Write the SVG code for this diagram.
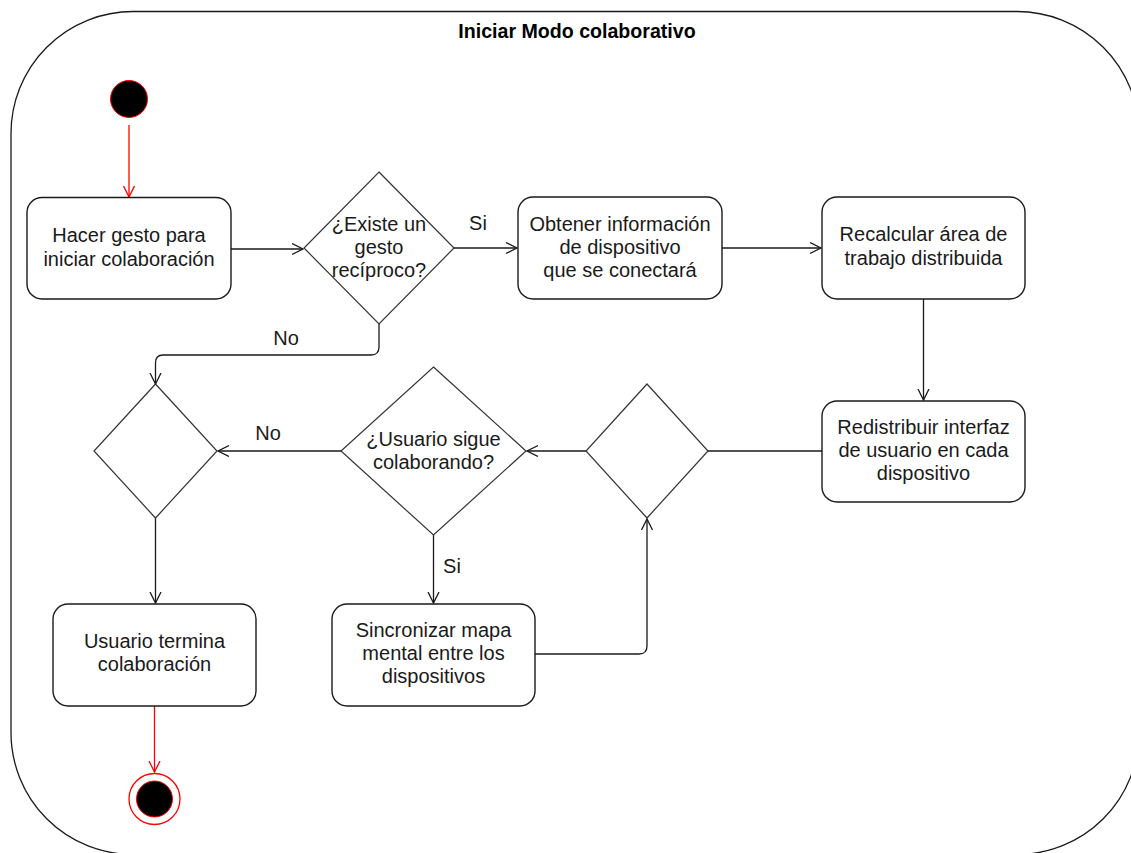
<svg xmlns="http://www.w3.org/2000/svg" width="1131" height="853" viewBox="0 0 1131 853">
  <style>
    .frame { fill: #ffffff; stroke: #1a1a1a; stroke-width: 1.3; }
    .box { fill: #ffffff; stroke: #1a1a1a; stroke-width: 1.4; }
    .dia { fill: #ffffff; stroke: #333333; stroke-width: 1.2; }
    .lbl { font-family: "Liberation Sans", Arial, sans-serif; font-size: 20px; fill: #1a1a1a; text-anchor: middle; }
    .title { font-family: "Liberation Sans", Arial, sans-serif; font-size: 19.6px; font-weight: bold; fill: #000000; text-anchor: middle; }
    .edge { fill: none; stroke: #1a1a1a; stroke-width: 1.3; }
    .edge-red { fill: none; stroke: #ff0000; stroke-width: 1.3; }
  </style>
  <defs>
    <marker id="open" markerWidth="14" markerHeight="14" refX="11" refY="6" orient="auto" markerUnits="userSpaceOnUse">
      <path d="M0,0.5 L11,6 L0,11.5" fill="none" stroke="#1a1a1a" stroke-width="1.3"/>
    </marker>
    <marker id="open-red" markerWidth="14" markerHeight="14" refX="11" refY="6" orient="auto" markerUnits="userSpaceOnUse">
      <path d="M0,0.5 L11,6 L0,11.5" fill="none" stroke="#ff0000" stroke-width="1.3"/>
    </marker>
  </defs>

  <rect width="1131" height="853" fill="#ffffff"/>

  <!-- Activity frame -->
  <g id="frame">
    <rect class="frame" x="11" y="11.5" width="1128" height="843" rx="122" ry="122"/>
    <text class="title" x="577" y="38">Iniciar Modo colaborativo</text>
  </g>

  <!-- Connectors -->
  <g id="connectors">
    <path class="edge-red" d="M129,125 V197" marker-end="url(#open-red)"/>
    <path class="edge" d="M231,249 H303" marker-end="url(#open)"/>
    <path class="edge" d="M454,248 H517" marker-end="url(#open)"/>
    <path class="edge" d="M722,248 H821" marker-end="url(#open)"/>
    <path class="edge" d="M923.5,299 V400" marker-end="url(#open)"/>
    <path class="edge" d="M822,451 H708"/>
    <path class="edge" d="M586,451 H527" marker-end="url(#open)"/>
    <path class="edge" d="M341,451 H218" marker-end="url(#open)"/>
    <path class="edge" d="M379,324 V347 Q379,355 371,355 H163 Q155.5,355 155.5,363 V384" marker-end="url(#open)"/>
    <path class="edge" d="M433.5,535 V603" marker-end="url(#open)"/>
    <path class="edge" d="M535,654 H639 Q647,654 647,646 V519" marker-end="url(#open)"/>
    <path class="edge" d="M155.5,518 V603" marker-end="url(#open)"/>
    <path class="edge-red" d="M154.5,706 V772" marker-end="url(#open-red)"/>
    <text class="lbl" x="478" y="230">Si</text>
    <text class="lbl" x="286" y="345">No</text>
    <text class="lbl" x="268" y="440">No</text>
    <text class="lbl" x="452" y="573">Si</text>
  </g>

  <!-- Start -->
  <g id="start">
    <circle cx="129" cy="99" r="18.5" fill="#000000" stroke="#ff0000" stroke-width="1"/>
  </g>

  <g id="hacer-gesto">
    <rect class="box" x="27" y="197.5" width="204" height="101.5" rx="15"/>
    <text class="lbl"><tspan x="129" y="242">Hacer gesto para</tspan><tspan x="129" y="266">iniciar colaboración</tspan></text>
  </g>

  <g id="existe-gesto">
    <polygon class="dia" points="379,172 454,248 379,324 304,248"/>
    <text class="lbl"><tspan x="379" y="231">¿Existe un</tspan><tspan x="379" y="254">gesto</tspan><tspan x="379" y="277">recíproco?</tspan></text>
  </g>

  <g id="obtener-info">
    <rect class="box" x="518" y="197" width="204" height="102" rx="15"/>
    <text class="lbl"><tspan x="620" y="231">Obtener información</tspan><tspan x="620" y="254">de dispositivo</tspan><tspan x="620" y="277">que se conectará</tspan></text>
  </g>

  <g id="recalcular">
    <rect class="box" x="822" y="197" width="203" height="102" rx="15"/>
    <text class="lbl"><tspan x="923.5" y="241">Recalcular área de</tspan><tspan x="923.5" y="265">trabajo distribuida</tspan></text>
  </g>

  <g id="redistribuir">
    <rect class="box" x="822" y="401" width="203" height="101" rx="15"/>
    <text class="lbl"><tspan x="923.5" y="434">Redistribuir interfaz</tspan><tspan x="923.5" y="457">de usuario en cada</tspan><tspan x="923.5" y="480">dispositivo</tspan></text>
  </g>

  <g id="merge">
    <polygon class="dia" points="647,384 708,451 647,518 586,451"/>
  </g>

  <g id="sigue-colaborando">
    <polygon class="dia" points="433.5,367 526,451 433.5,535 341,451"/>
    <text class="lbl"><tspan x="433.5" y="446">¿Usuario sigue</tspan><tspan x="433.5" y="469">colaborando?</tspan></text>
  </g>

  <g id="decision-fin">
    <polygon class="dia" points="155.5,384 217,451 155.5,518 94,451"/>
  </g>

  <g id="sincronizar">
    <rect class="box" x="332" y="604" width="203" height="102" rx="15"/>
    <text class="lbl"><tspan x="433.5" y="637">Sincronizar mapa</tspan><tspan x="433.5" y="660">mental entre los</tspan><tspan x="433.5" y="683">dispositivos</tspan></text>
  </g>

  <g id="usuario-termina">
    <rect class="box" x="53" y="604" width="203" height="102" rx="15"/>
    <text class="lbl"><tspan x="154.5" y="648">Usuario termina</tspan><tspan x="154.5" y="671">colaboración</tspan></text>
  </g>

  <!-- End -->
  <g id="end">
    <circle cx="154.5" cy="799" r="25.5" fill="#ffffff" stroke="#ff0000" stroke-width="1.3"/>
    <circle cx="154.5" cy="799" r="18" fill="#000000" stroke="#ff0000" stroke-width="1"/>
  </g>
</svg>
